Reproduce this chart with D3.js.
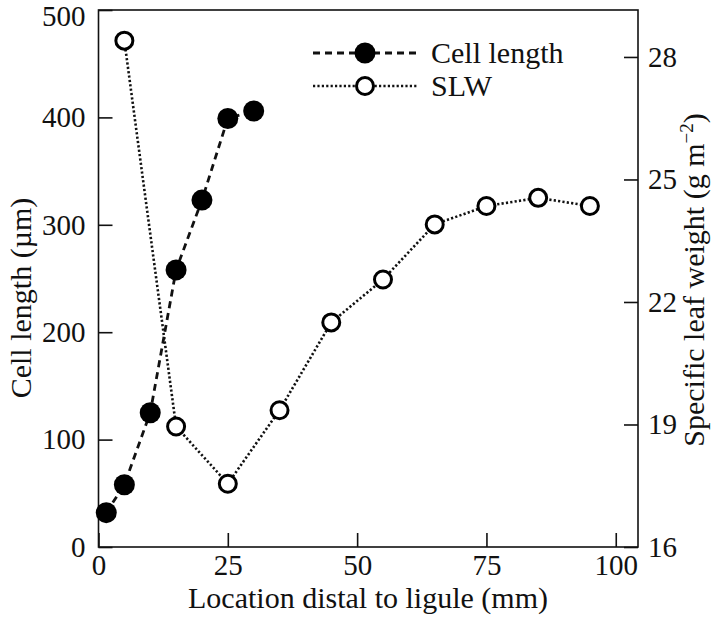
<!DOCTYPE html>
<html>
<head>
<meta charset="utf-8">
<script src="https://cdn.jsdelivr.net/npm/d3@7"></script>
<style>
  body { margin: 0; background: #fff; }
  svg text { font-family: "Liberation Serif", "Times New Roman", Times, Tinos, "Noto Serif", "DejaVu Serif", FreeSerif, serif; fill: #111; }
</style>
</head>
<body>
<div id="chart"></div>
<script>
// data
var cellX = [1.5, 5, 10, 15, 20, 25, 30];
var cellLength = [32, 58, 125, 258, 323, 399, 406];

var slwX = [5, 15, 25, 35, 45, 55, 65, 75, 85, 95];
var slw = [28.4, 18.95, 17.55, 19.35, 21.5, 22.55, 23.9, 24.35, 24.55, 24.35];

var xTicks = [0, 25, 50, 75, 100];
var yLeftTicks = [0, 100, 200, 300, 400, 500];
var yRightTicks = [16, 19, 22, 25, 28];

var width = 720, height = 618;
var pLeft = 98.5, pRight = 638, pTop = 10, pBottom = 547;
var serif = '"Liberation Serif", "Times New Roman", Times, Tinos, "Noto Serif", "DejaVu Serif", FreeSerif, serif';

var svg = d3.select("#chart").append("svg")
    .attr("width", width).attr("height", height)
    .attr("font-family", serif);

var x = d3.scaleLinear().domain([0, 104.3]).range([pLeft, pRight]);
var yL = d3.scaleLinear().domain([0, 500]).range([pBottom, pTop]);
var yR = d3.scaleLinear().domain([16, 29.15]).range([pBottom, pTop]);

var tickFont = 29, titleFont = 30;

// axes, ticks point inward
var xAxis = svg.append("g")
    .attr("transform", "translate(0," + pBottom + ")")
    .call(d3.axisBottom(x).tickValues(xTicks).tickSize(-14).tickPadding(7));

var yAxisL = svg.append("g")
    .attr("transform", "translate(" + pLeft + ",0)")
    .call(d3.axisLeft(yL).tickValues(yLeftTicks).tickSize(-14).tickPadding(13));

var yAxisR = svg.append("g")
    .attr("transform", "translate(" + pRight + ",0)")
    .call(d3.axisRight(yR).tickValues(yRightTicks).tickSize(-14).tickPadding(10));

[xAxis, yAxisL, yAxisR].forEach(function(a) {
  a.attr("font-family", serif);
  a.select(".domain").remove();
  a.selectAll(".tick line").attr("stroke", "#111").attr("stroke-width", 1.6);
  a.selectAll(".tick text")
    .attr("font-size", tickFont)
    .attr("fill", "#111");
});
// top label sits just under the edge
yAxisL.selectAll(".tick text").filter(function(d) { return d === 500; }).attr("dy", "0.55em");

// frame
svg.append("rect")
    .attr("x", pLeft).attr("y", pTop)
    .attr("width", pRight - pLeft).attr("height", pBottom - pTop)
    .attr("fill", "none").attr("stroke", "#111").attr("stroke-width", 1.6);

// axis titles
svg.append("text")
    .attr("x", 368).attr("y", 608)
    .attr("text-anchor", "middle")
    .attr("font-size", titleFont)
    .text("Location distal to ligule (mm)");

svg.append("text")
    .attr("transform", "translate(31,298) rotate(-90)")
    .attr("text-anchor", "middle")
    .attr("font-size", titleFont)
    .text("Cell length (\u00b5m)");

var rt = svg.append("text")
    .attr("transform", "translate(704,280) rotate(-90)")
    .attr("text-anchor", "middle")
    .attr("font-size", titleFont);
rt.append("tspan").text("Specific leaf weight (g m");
rt.append("tspan").attr("dy", -11).attr("font-size", 19).text("\u22122");
rt.append("tspan").attr("dy", 11).text(")");

// lines
var cellPts = cellX.map(function(d, i) { return [d, cellLength[i]]; });
var slwPts = slwX.map(function(d, i) { return [d, slw[i]]; });

svg.append("path")
    .datum(cellPts)
    .attr("fill", "none").attr("stroke", "#111")
    .attr("stroke-width", 2.8).attr("stroke-dasharray", "7,5")
    .attr("d", d3.line().x(function(d) { return x(d[0]); }).y(function(d) { return yL(d[1]); }));

svg.append("path")
    .datum(slwPts)
    .attr("fill", "none").attr("stroke", "#111")
    .attr("stroke-width", 2.6).attr("stroke-dasharray", "2.2,2.2")
    .attr("d", d3.line().x(function(d) { return x(d[0]); }).y(function(d) { return yR(d[1]); }));

// markers
svg.append("g").selectAll("circle")
    .data(cellPts).enter().append("circle")
    .attr("cx", function(d) { return x(d[0]); })
    .attr("cy", function(d) { return yL(d[1]); })
    .attr("r", 10.5).attr("fill", "#000");

svg.append("g").selectAll("circle")
    .data(slwPts).enter().append("circle")
    .attr("cx", function(d) { return x(d[0]); })
    .attr("cy", function(d) { return yR(d[1]); })
    .attr("r", 8.5).attr("fill", "#fff")
    .attr("stroke", "#000").attr("stroke-width", 3);

// legend
var legend = svg.append("g");
legend.append("line").attr("x1", 313).attr("x2", 418).attr("y1", 53).attr("y2", 53)
    .attr("stroke", "#111").attr("stroke-width", 2.8).attr("stroke-dasharray", "7,5");
legend.append("circle").attr("cx", 365).attr("cy", 53).attr("r", 10.5).attr("fill", "#000");
legend.append("text").attr("x", 431).attr("y", 63).attr("font-size", titleFont).text("Cell length");

legend.append("line").attr("x1", 313).attr("x2", 418).attr("y1", 86).attr("y2", 86)
    .attr("stroke", "#111").attr("stroke-width", 2.6).attr("stroke-dasharray", "2.2,2.2");
legend.append("circle").attr("cx", 365).attr("cy", 86).attr("r", 8.5).attr("fill", "#fff")
    .attr("stroke", "#000").attr("stroke-width", 3);
legend.append("text").attr("x", 431).attr("y", 96).attr("font-size", titleFont).text("SLW");
</script>
</body>
</html>
